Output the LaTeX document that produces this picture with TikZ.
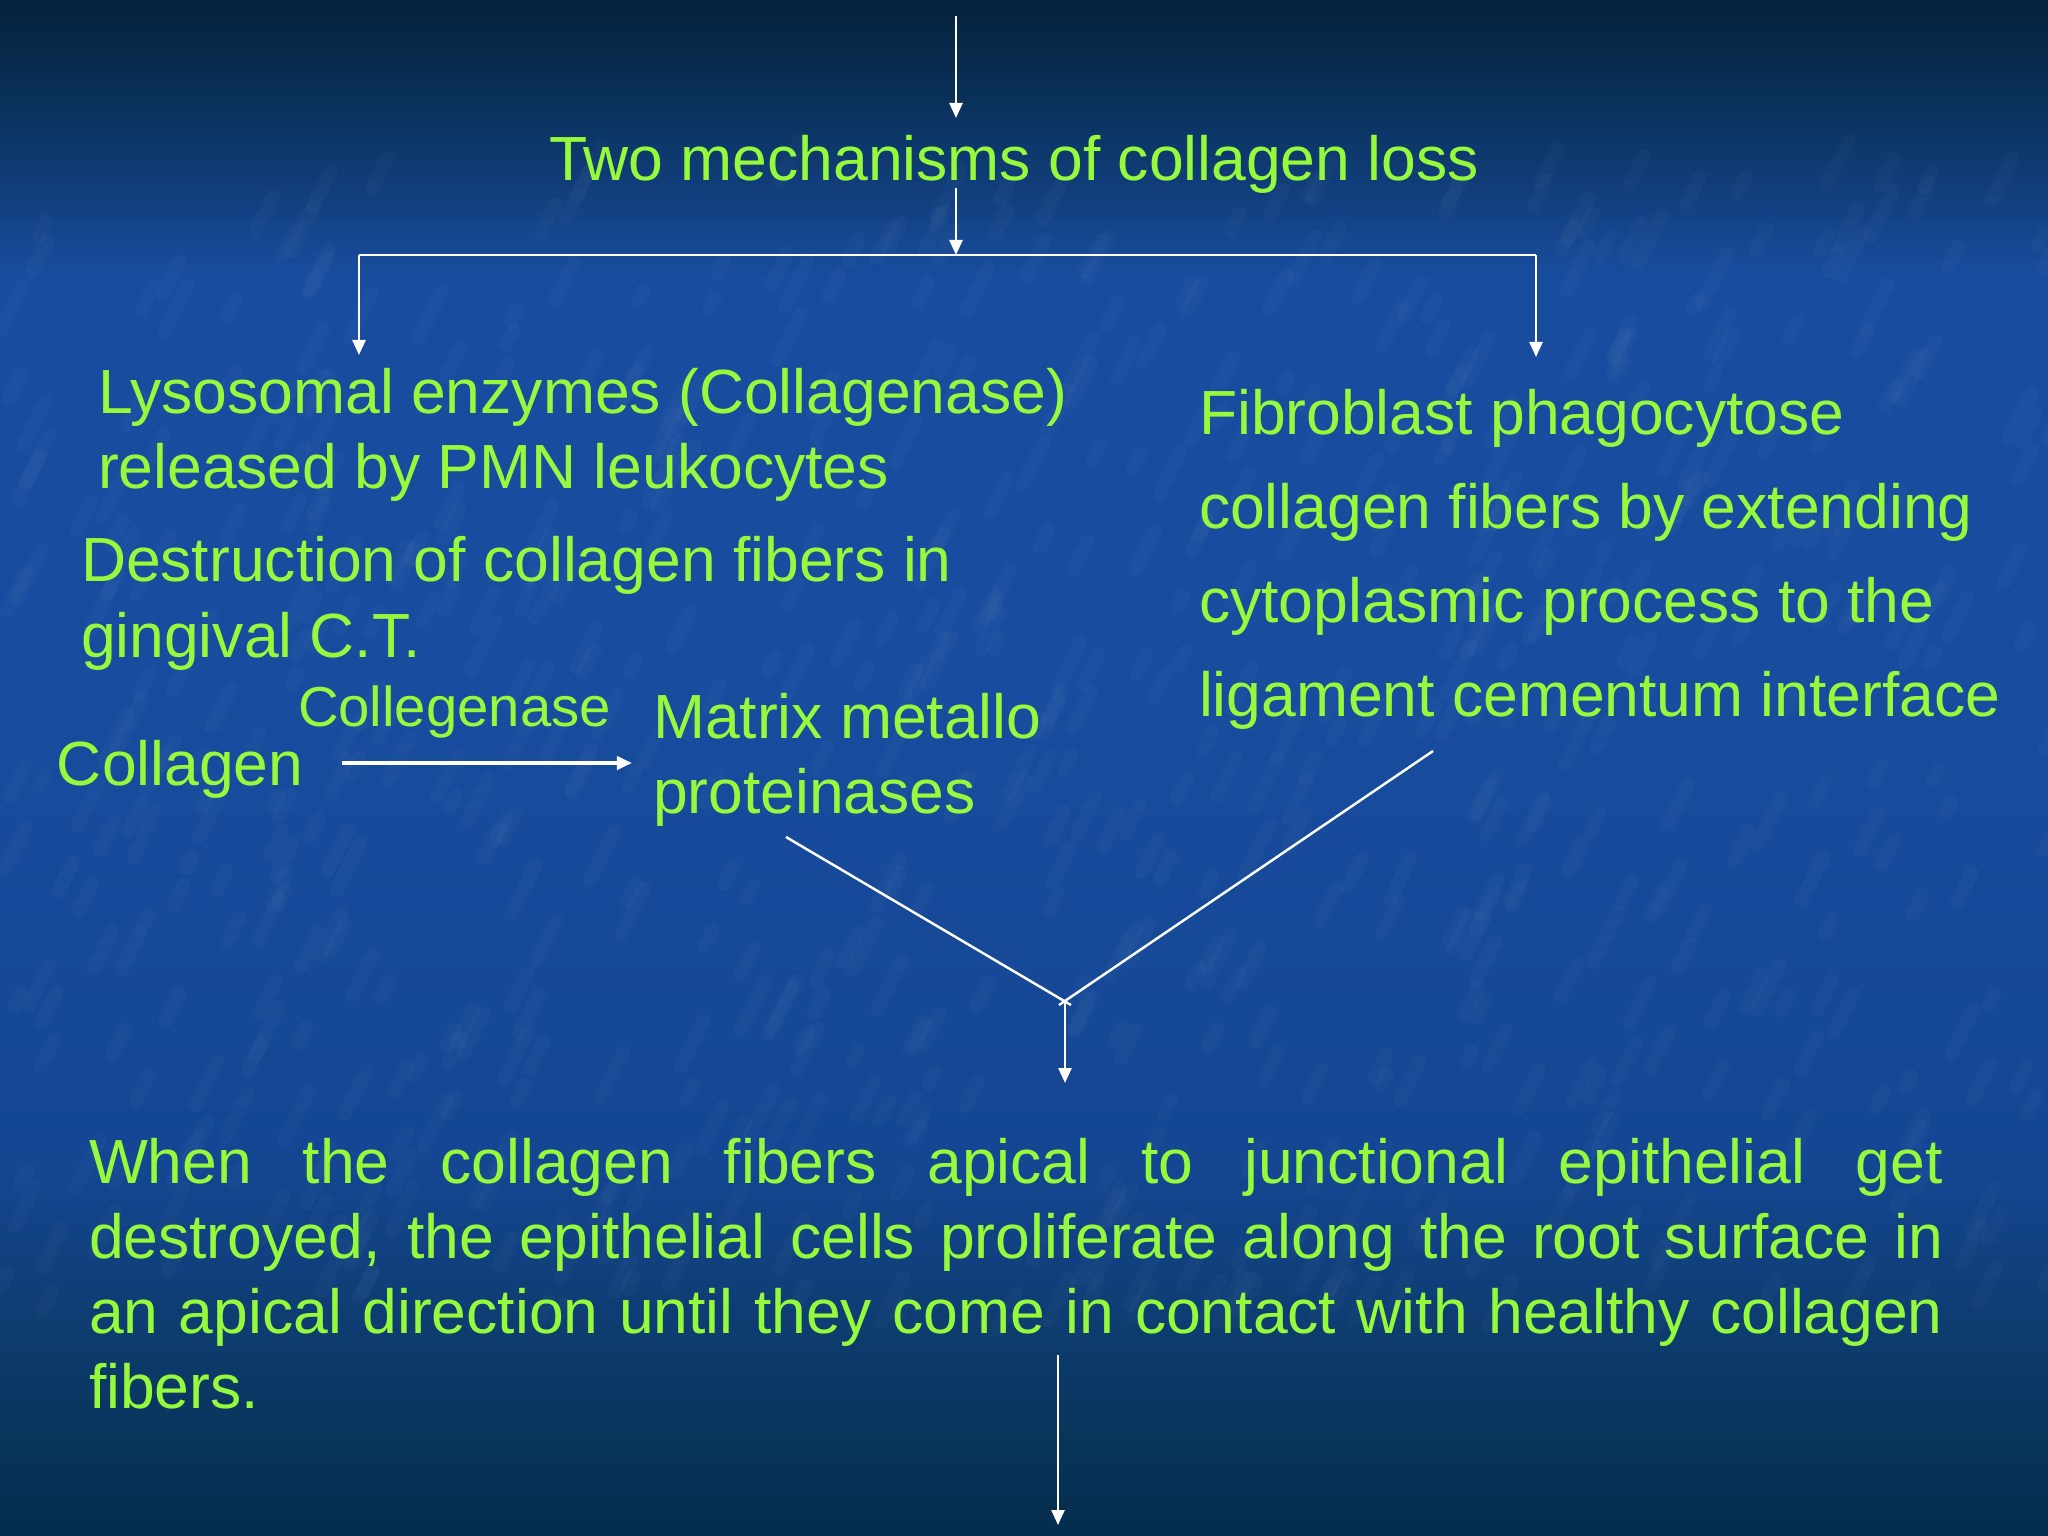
\documentclass[tikz,border=0pt]{standalone}
\usepackage{fontspec}
\setmainfont{Liberation Sans}
\usetikzlibrary{arrows.meta}
\definecolor{txt}{RGB}{150,250,60}
\definecolor{bgtop}{RGB}{5,34,60}
\definecolor{bgtop2}{RGB}{10,50,92}
\definecolor{bgmid}{RGB}{24,76,158}
\definecolor{bgmid2}{RGB}{20,70,146}
\definecolor{bgbot2}{RGB}{12,58,104}
\definecolor{bgbot}{RGB}{4,44,76}
\pgfdeclareverticalshading{bgshade}{100bp}{color(0bp)=(bgbot); color(25bp)=(bgbot); color(30.5bp)=(bgbot2); color(37bp)=(bgmid2); color(52.5bp)=(bgmid); color(66bp)=(bgmid); color(71.5bp)=(bgtop2); color(75bp)=(bgtop); color(100bp)=(bgtop)}
\tikzset{
  lbl/.style={text=txt, inner sep=0pt, outer sep=0pt, anchor=base west, align=left},
  big/.style={font=\fontsize{17.75}{21.1}\selectfont},
  arr/.style={draw=white, line width=0.7pt, -{Triangle[length=0.15cm,width=0.13cm]}},
  ln/.style={draw=white, line width=0.7pt},
}
\begin{document}
\begin{tikzpicture}[x=0.01cm,y=-0.01cm]
\useasboundingbox (0,0) rectangle (2048,1536);
\shade[shading=bgshade] (0,0) rectangle (2048,1536);
\pgfmathsetseed{7}
\foreach \i in {1,...,700}{
  \pgfmathsetmacro\xx{rnd*2048}
  \pgfmathsetmacro\yy{180+rnd*1150}
  \pgfmathsetmacro\ll{10+rnd*40}
  \draw[white, opacity=0.025, line width=4pt, line cap=round] (\xx,\yy) -- ++(0.5*\ll,-\ll);
}

% texts (multi-line nodes anchored at the baseline of their last line)
\node[lbl, big] (title) at (549,180) {Two mechanisms of collagen loss};
\node[lbl, font=\fontsize{17.75}{21.1}\selectfont] (lyso) at (98,488) {Lysosomal enzymes (Collagenase)\\released by PMN leukocytes};
\node[lbl, font=\fontsize{17.75}{21.6}\selectfont] (destr) at (81,657) {Destruction of collagen fibers in\\gingival C.T.};
\node[lbl, font=\fontsize{16}{19}\selectfont] (enz) at (298,726) {Collegenase};
\node[lbl, big] (coll) at (57,785) {Collagen};
\node[lbl, font=\fontsize{17.75}{21.3}\selectfont] (mmp) at (653,813) {Matrix metallo\\proteinases};
\node[lbl, font=\fontsize{17.75}{26.7}\selectfont] (fibro) at (1199,716) {Fibroblast phagocytose\\collagen fibers by extending\\cytoplasmic process to the\\ligament cementum interface};
\node[lbl, font=\fontsize{17.75}{21.3}\selectfont] (para) at (89,1408) {\makebox[18.53cm][s]{When the collagen fibers apical to junctional epithelial get}\\
\makebox[18.53cm][s]{destroyed, the epithelial cells proliferate along the root surface in}\\
\makebox[18.53cm][s]{an apical direction until they come in contact with healthy collagen}\\
fibers.};

% connector points
\coordinate (src) at (956,16);
\coordinate (tin) at (956,118);
\coordinate (tout) at (956,188);
\coordinate (fork) at (956,255);
\coordinate (forkL) at (359,255);
\coordinate (forkR) at (1536,255);
\coordinate (inL) at (359,355);
\coordinate (inR) at (1536,357);
\coordinate (cA) at (342,763);
\coordinate (cB) at (632,763);
\coordinate (vL) at (786,837);
\coordinate (vR) at (1433,751);
\coordinate (apex) at (1065,1000);
\coordinate (down) at (1065,1083);
\coordinate (fin0) at (1058,1355);
\coordinate (fin1) at (1058,1525);

\draw[arr] (src) -- (tin);
\draw[arr] (tout) -- (fork);
\draw[ln] (forkL) -- (forkR);
\draw[arr] (forkL) -- (inL);
\draw[arr] (forkR) -- (inR);
\draw[arr, line width=1.1pt] (cA) -- (cB);
\draw[ln] (vL) -- ([shift={(6,5)}]apex);
\draw[ln] (vR) -- ([shift={(-6,5)}]apex);
\draw[arr] (apex) -- (down);
\draw[arr] (fin0) -- (fin1);
\end{tikzpicture}
\end{document}
